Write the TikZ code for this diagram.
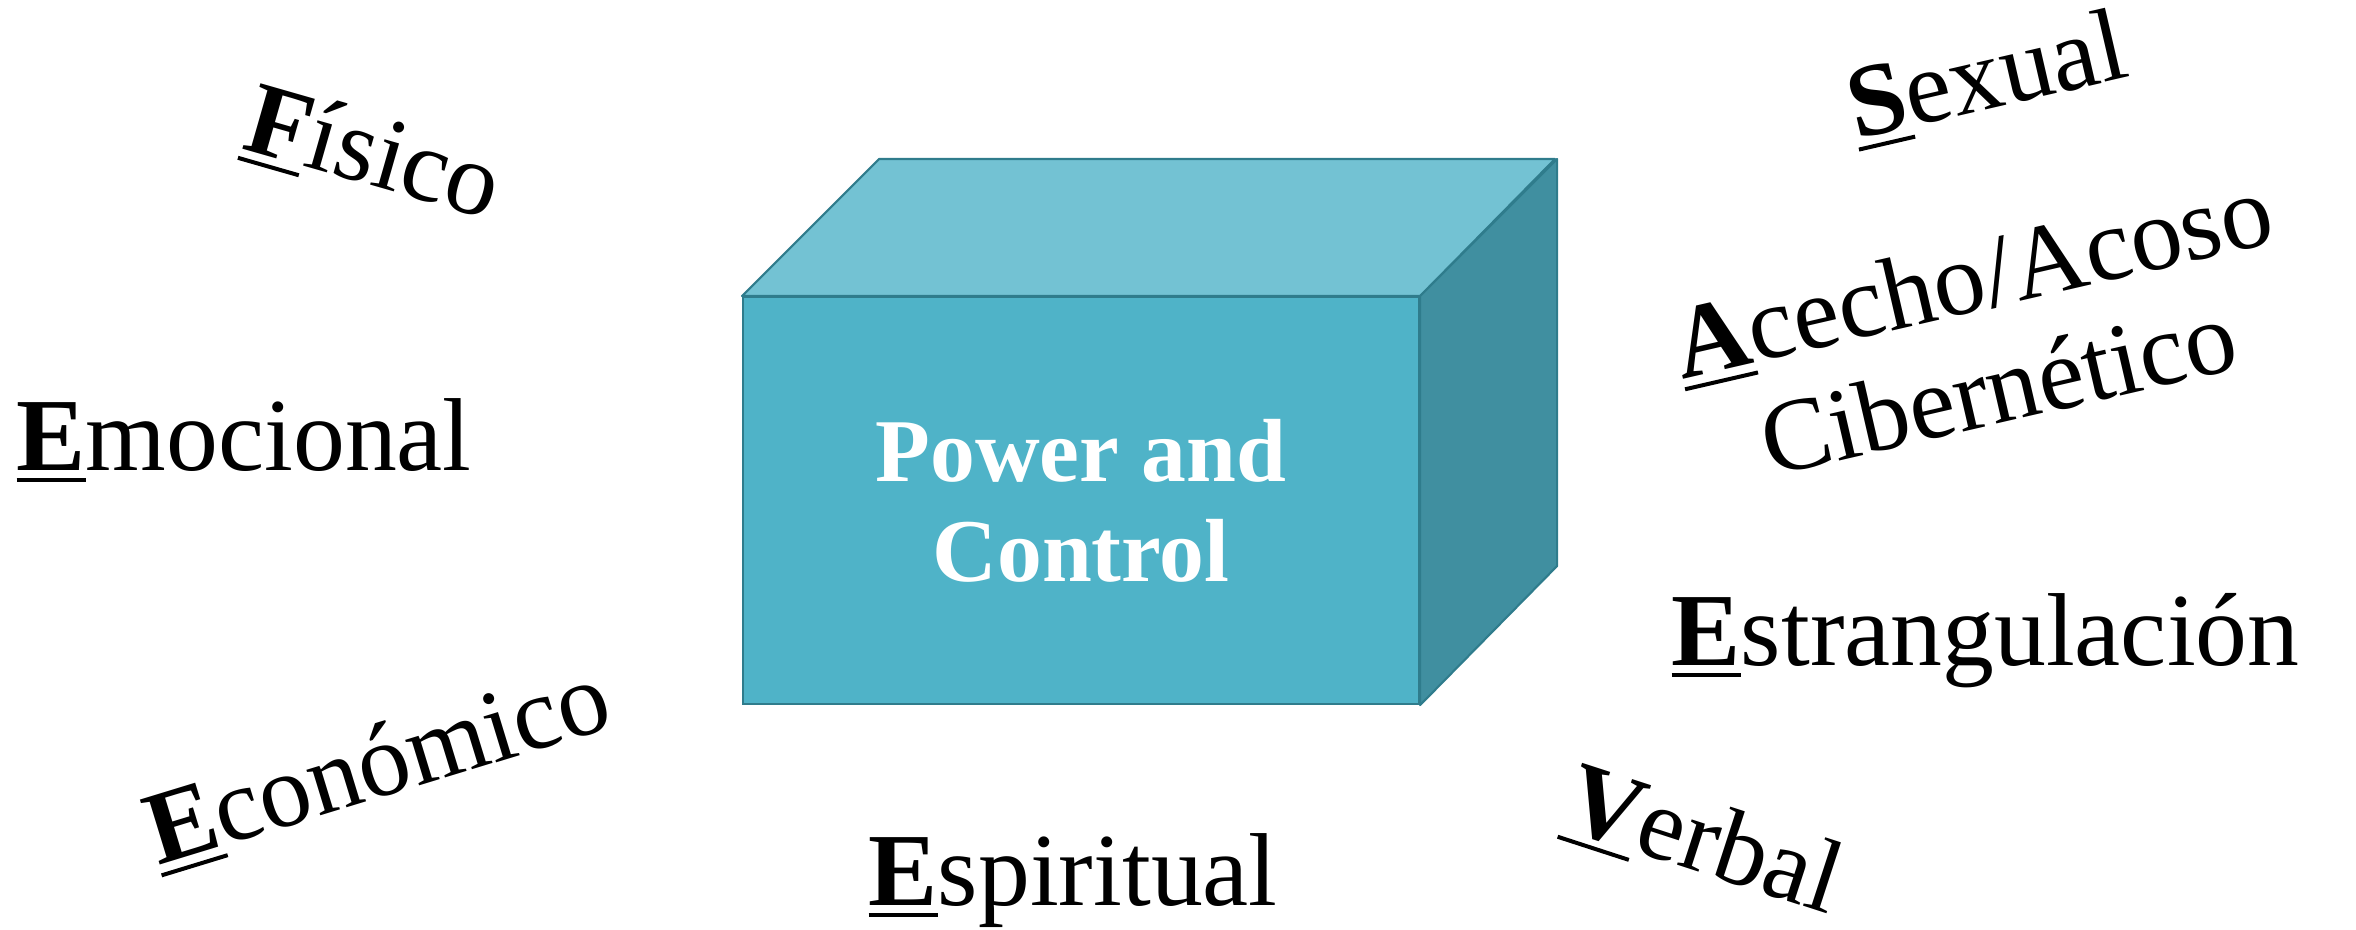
\documentclass[tikz,border=0pt]{standalone}
\usepackage{fontspec}
\setmainfont{Liberation Serif}
\usepackage{tikz}
\usepackage{xcolor}
\usetikzlibrary{positioning, calc}
\definecolor{CubeA}{HTML}{4FB3C8}
\definecolor{CubeB}{HTML}{73C2D3}
\definecolor{CubeC}{HTML}{408FA0}
\definecolor{CubeD}{HTML}{2F7C8C}
\tikzset{
  fc/.style={draw=CubeD, fill=CubeA, line width=0.6pt, align=center, text=white,
             font=\bfseries\fontsize{25.5}{28.5}\selectfont, inner sep=0pt,
             minimum width=6.76cm, minimum height=4.07cm},
  tp/.style={draw=CubeD, fill=CubeB, line width=0.6pt, line join=round},
  sd/.style={draw=CubeD, fill=CubeC, line width=0.6pt, line join=round},
  lbl/.style={font=\fontsize{29.5}{32.5}\selectfont, inner sep=0pt, anchor=base west},
}
\newsavebox{\inibox}
\newcommand{\ini}[1]{\sbox{\inibox}{\bfseries #1}\rlap{\rule[-1.2mm]{\wd\inibox}{0.4mm}}\usebox{\inibox}}

\begin{document}
\begin{tikzpicture}
  \useasboundingbox (0,0) rectangle (23.56,-9.30);

  \node[fc, anchor=north west] (front) at (7.42,-2.96) {Power and\\Control};
  \draw[tp] (front.north west) -- ++(1.37,1.37) -- ++(6.76,0) -- (front.north east) -- cycle;
  \draw[sd] (front.north east) -- ++(1.37,1.37) -- ++(0,-4.07) -- (front.south east) -- cycle;

  \node[lbl, rotate=-16] (fis) at (2.40,-1.48) {\ini{F}ísico};
  \node[lbl] (emo) at (0.16,-4.70) {\ini{E}mocional};
  \node[lbl, rotate=17] (eco) at (1.58,-8.66) {\ini{E}conómico};
  \node[lbl] (esp) at (8.68,-9.05) {\ini{E}spiritual};
  \node[lbl, rotate=13] (sex) at (18.56,-1.40) {\ini{S}exual};
  \node[lbl, anchor=center, align=center, rotate=13] (ace) at (19.85,-3.32)
       {\ini{A}cecho/Acoso\\Cibernético};
  \node[lbl] (est) at (16.71,-6.65) {\ini{E}strangulación};
  \node[lbl, rotate=-18] (ver) at (15.60,-8.27) {\ini{V}erbal};
\end{tikzpicture}
\end{document}
